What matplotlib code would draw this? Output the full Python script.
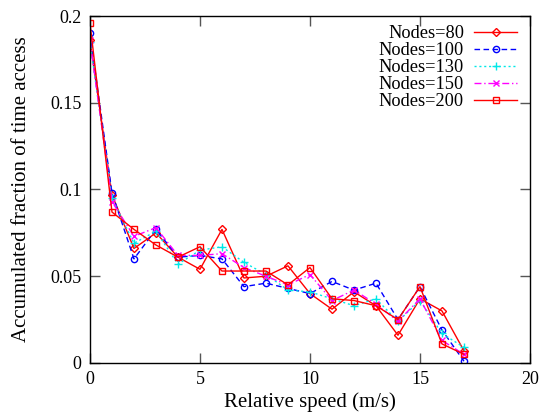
import matplotlib
matplotlib.use("Agg")
import matplotlib.pyplot as plt
import numpy as np

plt.rcParams['font.family'] = ['Liberation Serif', 'DejaVu Serif']

# relative speed (m/s)
speed = list(range(0, 18))

# accumulated fraction of time access per node count
nodes80 = [0.186, 0.097, 0.066, 0.075, 0.061, 0.054, 0.077, 0.049, 0.050, 0.056,
           0.040, 0.031, 0.041, 0.033, 0.016, 0.037, 0.030, 0.007]
nodes100 = [0.190, 0.098, 0.060, 0.077, 0.061, 0.062, 0.060, 0.044, 0.046, 0.043,
            0.040, 0.047, 0.042, 0.046, 0.025, 0.044, 0.019, 0.001]
nodes130 = [0.185, 0.095, 0.069, 0.076, 0.057, 0.065, 0.067, 0.058, 0.051, 0.042,
            0.041, 0.037, 0.033, 0.037, 0.024, 0.036, 0.017, 0.009]
nodes150 = [0.186, 0.093, 0.073, 0.078, 0.062, 0.062, 0.063, 0.055, 0.050, 0.045,
            0.051, 0.036, 0.042, 0.034, 0.024, 0.037, 0.013, 0.005]
nodes200 = [0.196, 0.087, 0.077, 0.068, 0.061, 0.067, 0.053, 0.053, 0.053, 0.045,
            0.055, 0.037, 0.036, 0.033, 0.025, 0.044, 0.011, 0.005]

series = (nodes80, nodes100, nodes130, nodes150, nodes200)
labels = ('Nodes=80', 'Nodes=100', 'Nodes=130', 'Nodes=150', 'Nodes=200')
colours = ('#ff0000', '#0000ff', '#00e8e8', '#ff00ff', '#ff0000')
styles = ('-', (0, (4, 2.5)), (0, (1.5, 2)), (0, (5, 2, 1, 2)), '-')
markers = ('D', 'o', '+', 'x', 's')
msizes = (4, 4.5, 6, 5, 4.5)

fig = plt.figure(figsize=(5.43, 4.19), dpi=100)
ax = fig.add_axes([0.1657, 0.1337, 0.8103, 0.8281])

for y, la, c, ls, m, ms in zip(series, labels, colours, styles, markers, msizes):
    ax.plot(speed, y, color=c, linestyle=ls, linewidth=1, marker=m,
            markersize=ms, markerfacecolor='none', markeredgecolor=c,
            markeredgewidth=1, label=la)

ax.set_xlim(0, 20)
ax.set_ylim(0, 0.2)
ax.set_xticks([0, 5, 10, 15, 20])
ax.set_yticks([0, 0.05, 0.1, 0.15, 0.2])
ax.set_yticklabels(['0', '0.05', '0.1', '0.15', '0.2'])
ax.tick_params(direction='in', length=7, width=1, top=True, right=True,
               labelsize=13, pad=6, color='#555555')
for sp in ax.spines.values():
    sp.set_linewidth(1)

ax.set_xlabel('Relative speed (m/s)', fontsize=15, labelpad=3)
ax.set_ylabel('Accumulated fraction of time access', fontsize=15, labelpad=14)

ax.legend(loc='upper right', frameon=False, markerfirst=False, numpoints=1,
          fontsize=13.2, handlelength=2.35, handletextpad=0.55,
          labelspacing=0.0, borderaxespad=0.3, bbox_to_anchor=(1.0, 1.01))

fig.savefig('out.png', dpi=100)
